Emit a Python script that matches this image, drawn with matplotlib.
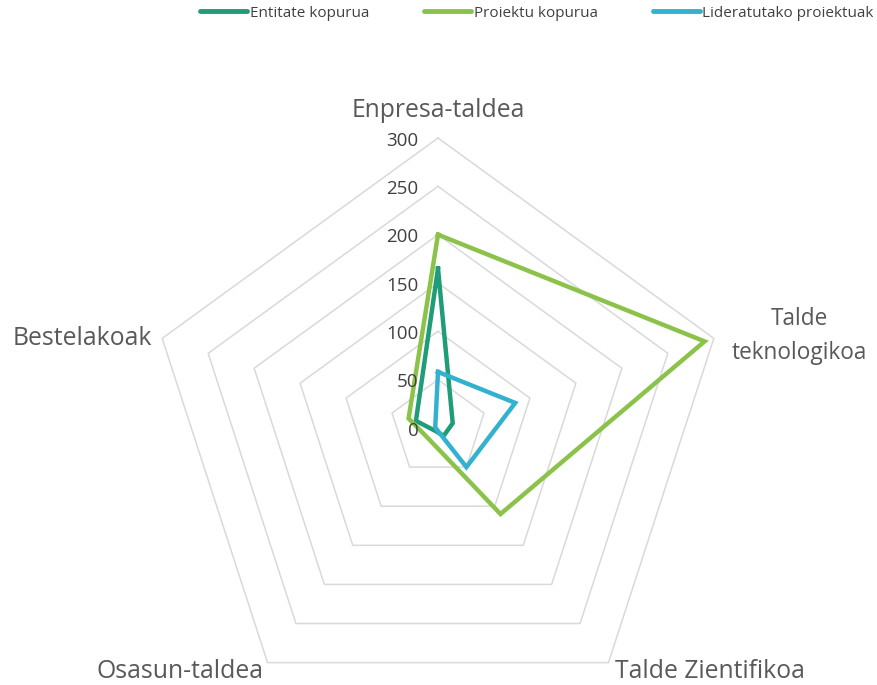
import numpy as np
import matplotlib
matplotlib.use("Agg")
import matplotlib.pyplot as plt
from matplotlib.lines import Line2D

plt.rcParams['font.family'] = ['Open Sans', 'DejaVu Sans']

categories = ["Enpresa-taldea", "Talde\nteknologikoa", "Talde Zientifikoa", "Osasun-taldea", "Bestelakoak"]
series_names = ["Entitate kopurua", "Proiektu kopurua", "Lideratutako proiektuak"]
entitate = [165, 16, 10, 4, 24]
proiektu = [200, 290, 110, 15, 32]
lideratu = [58, 84, 50, 2, 3]
ticks = [0, 50, 100, 150, 200, 250, 300]
colors = ["#1f9c78", "#8bc34a", "#33b2d0"]

fig = plt.figure(figsize=(8.77, 6.85), dpi=100)
W, H = 877, 685
cx, cy, R = 438, 428, 290
ax = fig.add_axes([(cx - R) / W, (H - cy - R) / H, 2 * R / W, 2 * R / H], projection='polar')
ax.set_theta_offset(np.pi / 2)
ax.set_theta_direction(-1)
ax.set_ylim(0, 300)
ax.axis('off')

n = len(categories)
angles = np.linspace(0, 2 * np.pi, n, endpoint=False)
closed = np.concatenate([angles, angles[:1]])

for t in ticks[1:]:
    ax.plot(closed, [t] * (n + 1), color="#d9d9d9", lw=1.1, zorder=1, clip_on=False)

for vals, c in zip([entitate, proiektu, lideratu], colors):
    v = list(vals) + [vals[0]]
    ax.plot(closed, v, color=c, lw=3.2, zorder=3, clip_on=False, solid_joinstyle='miter')

for t in ticks:
    ax.annotate(str(t), xy=(0, t), xytext=(-14, -2), textcoords='offset points',
                ha='right', va='center', fontsize=13.5, color="#404040", annotation_clip=False)

label_offsets = [(0, 10.5), (13, 2), (5, -6.5), (-3, -6.5), (-7, 0)]
label_ha = ['center', 'left', 'left', 'right', 'right']
label_va = ['bottom', 'center', 'center', 'center', 'center']
label_size = [17.8, 16.3, 17.8, 17.8, 17.8]
for a, lab, off, ha, va, fs in zip(angles, categories, label_offsets, label_ha, label_va, label_size):
    ax.annotate(lab, xy=(a, 300), xytext=off, textcoords='offset points', ha=ha,
                va=va, fontsize=fs, color="#595959", annotation_clip=False,
                linespacing=1.55, multialignment='center')

handles = [Line2D([0], [0], color=c, lw=3.5, solid_capstyle='round') for c in colors]
fig.legend(handles, series_names, loc='upper center', bbox_to_anchor=(0.612, 1.012), ncol=3,
           frameon=False, fontsize=11, handlelength=3.1, handletextpad=0.15, columnspacing=3.6,
           labelcolor="#404040")

fig.savefig("out.png", dpi=100)
